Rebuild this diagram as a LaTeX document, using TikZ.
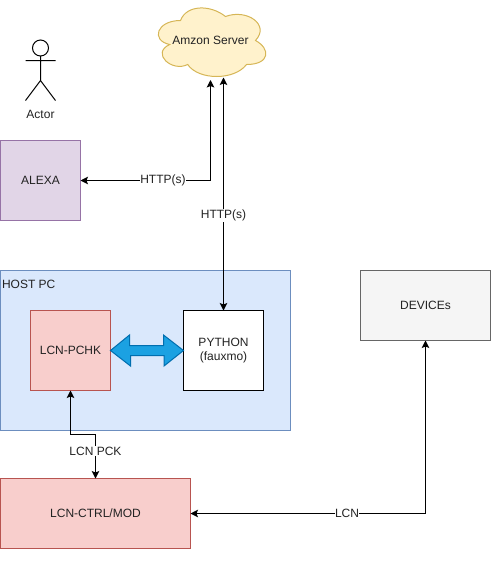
\documentclass[tikz,border=0pt]{standalone}
\usepackage{fontspec}
\setmainfont{Liberation Sans}
\usetikzlibrary{arrows.meta,calc}
\definecolor{purplefill}{HTML}{E1D5E7}
\definecolor{purpleline}{HTML}{9673A6}
\definecolor{bluefill}{HTML}{DAE8FC}
\definecolor{blueline}{HTML}{6C8EBF}
\definecolor{redfill}{HTML}{F8CECC}
\definecolor{redline}{HTML}{B85450}
\definecolor{greyfill}{HTML}{F5F5F5}
\definecolor{greyline}{HTML}{666666}
\definecolor{cloudfill}{HTML}{FFF2CC}
\definecolor{cloudline}{HTML}{D6B656}
\definecolor{linkfill}{HTML}{1BA1E2}
\definecolor{linkline}{HTML}{006EAF}
\definecolor{inktext}{HTML}{222222}
\tikzset{
  every node/.style={font=\fontsize{12}{14.4}\selectfont,text=inktext,outer sep=0pt,inner sep=0pt},
  box/.style={draw,line width=1pt,align=center,anchor=center},
  sq/.style={box,minimum width=80pt,minimum height=80pt},
  edge label/.style={fill=white,inner xsep=0pt,inner ysep=1pt},
  conn/.style={line width=1pt,draw=black,-{Stealth[length=7.5pt,width=7.5pt,inset=1.5pt]}},
  biconn/.style={line width=1pt,draw=black,{Stealth[length=7.5pt,width=7.5pt,inset=1.5pt]}-{Stealth[length=7.5pt,width=7.5pt,inset=1.5pt]}},
  actorline/.style={line width=1pt,draw=black},
}
\begin{document}
\begin{tikzpicture}[x=1pt,y=-1pt]
\useasboundingbox (0,0) rectangle (491,579);
% cloud
\begin{scope}[shift={(0.5,0.5)}]
\draw[line width=1pt,fill=cloudfill,draw=cloudline]
  (180,20) .. controls (156,20) and (150,40) .. (169.2,44)
  .. controls (150,52.8) and (171.6,72) .. (187.2,64)
  .. controls (198,80) and (234,80) .. (246,64)
  .. controls (270,64) and (270,48) .. (255,40)
  .. controls (270,24) and (246,8) .. (225,16)
  .. controls (210,4) and (186,4) .. (180,20) -- cycle;
\end{scope}
\node[minimum width=120pt,minimum height=80pt] (server) at (210.5,40) {Amzon Server};
\coordinate (serverB) at (223.5,77.5);
% actor
\node[circle,draw,line width=1pt,minimum size=16pt] (head) at (40.5,48) {};
\coordinate (hip) at (40.5,80.5);
\coordinate (armL) at (25.5,60.5);
\coordinate (armR) at (55.5,60.5);
\coordinate (legL) at (25.5,100.5);
\coordinate (legR) at (55.5,100.5);
\draw[actorline] (head.south) -- (hip) (armL) -- (armR) (legL) -- (hip) -- (legR);
\node (actor) at (40.5,114) {Actor};
% boxes
\node[sq,fill=purplefill,draw=purpleline] (alexa) at (40.5,180.5) {ALEXA};
\node[box,fill=bluefill,draw=blueline,minimum width=290pt,minimum height=160pt] (host) at (145.5,350.5) {};
\node[anchor=west] (hostlabel) at (2,284) {HOST PC};
\node[sq,fill=redfill,draw=redline] (pchk) at (70.5,350.5) {LCN-PCHK};
\node[sq,fill=white,draw=black] (python) at (223.5,350.5) {PYTHON\\(fauxmo)};
\node[box,fill=redfill,draw=redline,minimum width=190pt,minimum height=70pt] (ctrl) at (95.5,513.5) {LCN-CTRL/MOD};
\node[box,fill=greyfill,draw=greyline,minimum width=130pt,minimum height=70pt] (devices) at (425.5,305.5) {DEVICEs};
% thick double arrow
\draw[line width=1pt,fill=linkfill,draw=linkline,line join=miter]
  (pchk.east) -- ++(19,-15.5) -- ++(0,10.5) -- ++(34,0) -- ++(0,-10.5)
  -- (python.west) -- ++(-19.5,15.5) -- ++(0,-10.5) -- ++(-33.5,0) -- ++(0,10.5) -- cycle;
% connectors
\draw[biconn] (alexa.east) -| node[pos=0.317,edge label] (l1) {HTTP(s)} (server.south);
\draw[biconn] (python.north) -- node[pos=0.407,edge label] (l2) {HTTP(s)} (serverB);
\coordinate (elbowA) at (70.5,434.5);
\coordinate (elbowB) at (95.5,434.5);
\draw[biconn] (pchk.south) -- (elbowA) -- (elbowB) -- node[pos=0.38,edge label] (l3) {LCN PCK} (ctrl.north);
\draw[biconn] (ctrl.east) -| node[pos=0.333,edge label] (l4) {LCN} (devices.south);
\end{tikzpicture}
\end{document}
